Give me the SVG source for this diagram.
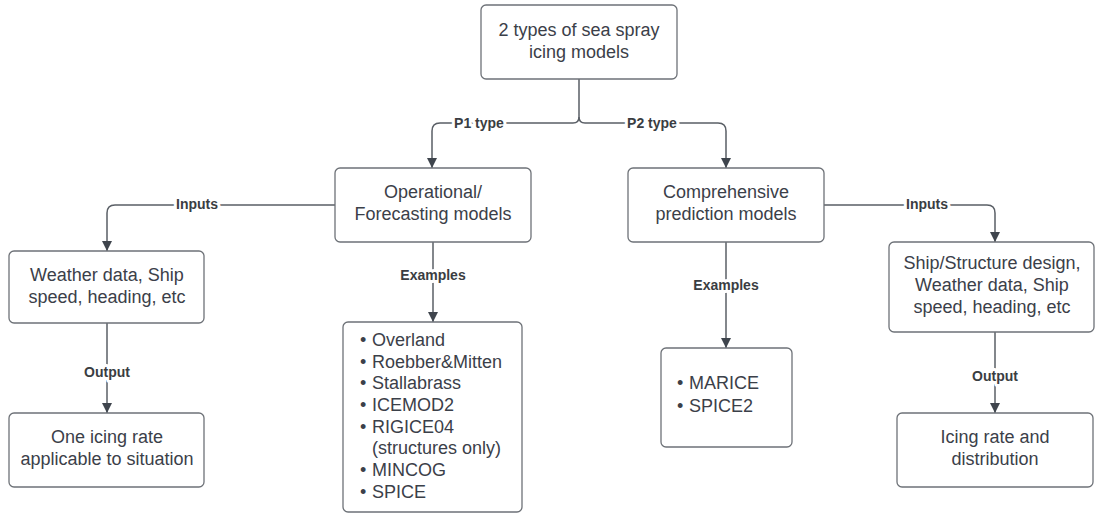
<svg xmlns="http://www.w3.org/2000/svg" width="1096" height="514" viewBox="0 0 1096 514">
<defs>
<marker id="arr" viewBox="0 0 10 10" refX="10" refY="5" markerWidth="10" markerHeight="10" markerUnits="userSpaceOnUse" orient="auto">
<path d="M0 0 L10 5 L0 10 Z" fill="#3f454d"/>
</marker>
<style>
.box{fill:#fff;stroke:#6e7278;stroke-width:1.3}
.t{font-family:"Liberation Sans",Arial,sans-serif;font-size:18px;fill:#3b4049;text-anchor:middle}
.l{font-family:"Liberation Sans",Arial,sans-serif;font-size:18px;fill:#3b4049}
.c{fill:none;stroke:#5a5f66;stroke-width:1.5}
.lab{font-family:"Liberation Sans",Arial,sans-serif;font-size:14px;font-weight:bold;fill:#3a3d42;text-anchor:middle;stroke:#fff;stroke-width:6;paint-order:stroke;stroke-linejoin:round}
</style>
</defs>
<rect width="1096" height="514" fill="#fff"/>
<g id="connectors">
<path class="c" d="M579 79 V117 Q579 123 573 123 H440 Q432 123 432 131 V168" marker-end="url(#arr)"/>
<path class="c" d="M579 117 Q579 123 585 123 H718 Q726 123 726 131 V168" marker-end="url(#arr)"/>
<path class="c" d="M335 205 H115 Q107 205 107 213 V251" marker-end="url(#arr)"/>
<path class="c" d="M107 323 V413" marker-end="url(#arr)"/>
<path class="c" d="M433 242 V322" marker-end="url(#arr)"/>
<path class="c" d="M726 242 V348" marker-end="url(#arr)"/>
<path class="c" d="M824 205 H987 Q995 205 995 213 V242" marker-end="url(#arr)"/>
<path class="c" d="M995 332 V413" marker-end="url(#arr)"/>
<text class="lab" x="479" y="128">P1 type</text>
<text class="lab" x="652" y="128">P2 type</text>
<text class="lab" x="197" y="209">Inputs</text>
<text class="lab" x="927" y="209">Inputs</text>
<text class="lab" x="107" y="377">Output</text>
<text class="lab" x="995" y="381">Output</text>
<text class="lab" x="433" y="280">Examples</text>
<text class="lab" x="726" y="290">Examples</text>
</g>
<g id="top">
<rect class="box" x="481" y="5" width="196" height="74" rx="5"/>
<text class="t" x="579" y="36">2 types of sea spray</text>
<text class="t" x="579" y="58">icing models</text>
</g>
<g id="operational">
<rect class="box" x="335" y="168" width="196" height="74" rx="5"/>
<text class="t" x="433" y="198">Operational/</text>
<text class="t" x="433" y="220">Forecasting models</text>
</g>
<g id="comprehensive">
<rect class="box" x="628" y="168" width="196" height="74" rx="5"/>
<text class="t" x="726" y="198">Comprehensive</text>
<text class="t" x="726" y="220">prediction models</text>
</g>
<g id="weather">
<rect class="box" x="9" y="251" width="195" height="72" rx="5"/>
<text class="t" x="107" y="281">Weather data, Ship</text>
<text class="t" x="107" y="303">speed, heading, etc</text>
</g>
<g id="oneicing">
<rect class="box" x="9" y="413" width="195" height="74" rx="5"/>
<text class="t" x="107" y="443">One icing rate</text>
<text class="t" x="107" y="465">applicable to situation</text>
</g>
<g id="examples1">
<rect class="box" x="343" y="322" width="179" height="190" rx="5"/>
<g class="l">
<text x="360" y="346">•</text><text x="372" y="346">Overland</text>
<text x="360" y="368">•</text><text x="372" y="368">Roebber&amp;Mitten</text>
<text x="360" y="389">•</text><text x="372" y="389">Stallabrass</text>
<text x="360" y="411">•</text><text x="372" y="411">ICEMOD2</text>
<text x="360" y="433">•</text><text x="372" y="433">RIGICE04</text>
<text x="372" y="454">(structures only)</text>
<text x="360" y="476">•</text><text x="372" y="476">MINCOG</text>
<text x="360" y="498">•</text><text x="372" y="498">SPICE</text>
</g>
</g>
<g id="examples2">
<rect class="box" x="661" y="348" width="131" height="99" rx="5"/>
<g class="l">
<text x="677" y="389">•</text><text x="689" y="389">MARICE</text>
<text x="677" y="412">•</text><text x="689" y="412">SPICE2</text>
</g>
</g>
<g id="shipdesign">
<rect class="box" x="889" y="242" width="205" height="90" rx="5"/>
<text class="t" x="992" y="269">Ship/Structure design,</text>
<text class="t" x="992" y="291">Weather data, Ship</text>
<text class="t" x="992" y="313">speed, heading, etc</text>
</g>
<g id="icingrate">
<rect class="box" x="897" y="413" width="196" height="74" rx="5"/>
<text class="t" x="995" y="443">Icing rate and</text>
<text class="t" x="995" y="465">distribution</text>
</g>
</svg>
